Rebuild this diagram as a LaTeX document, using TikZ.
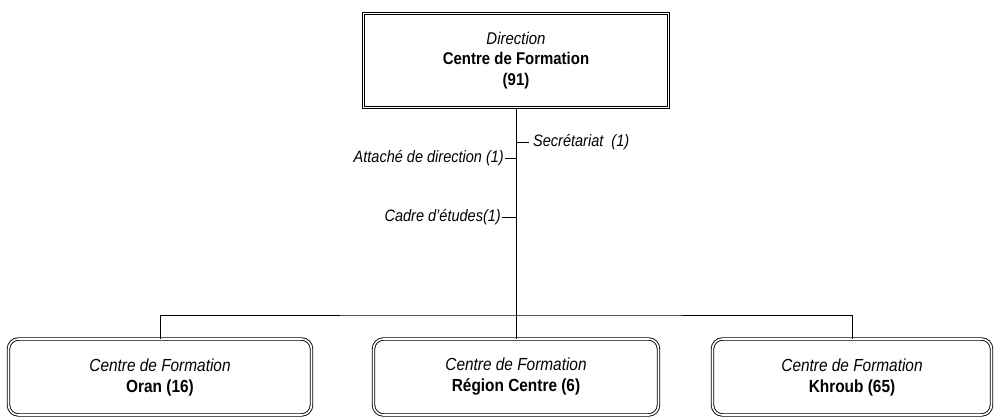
\documentclass[tikz,border=0pt]{standalone}
\usepackage{fontspec}
\setmainfont{Liberation Sans}[FakeStretch=0.88]
\begin{document}
\begin{tikzpicture}[x=1pt,y=-1pt,
  unitbox/.style={draw, double, double distance=1.6pt, line width=0.9pt,
    align=center, inner sep=0pt},
  headbox/.style={unitbox, minimum width=305pt, minimum height=94pt,
    font=\fontsize{17}{20.5}\selectfont},
  subbox/.style={unitbox, rounded corners=10pt, minimum height=76pt,
    font=\fontsize{17.5}{21}\selectfont},
  lbl/.style={font=\fontsize{16.5}{19}\selectfont\itshape, inner sep=1pt},
  link/.style={line width=0.8pt}]
\useasboundingbox (0,0) rectangle (995,417);

% head office
\node[headbox] (dir) at (516,60.5)
  {\textit{Direction}\\\textbf{Centre de Formation}\\\textbf{(91)}};

% regional centres
\node[subbox, minimum width=303pt] (oran) at (160,377)
  {\textit{Centre de Formation}\\\textbf{Oran (16)}};
\node[subbox, minimum width=285pt] (centre) at (516,377)
  {\textit{Centre de Formation}\\\textbf{Région Centre (6)}};
\node[subbox, minimum width=279pt] (khroub) at (852,377)
  {\textit{Centre de Formation}\\\textbf{Khroub (65)}};

% staff attached to the direction
\node[lbl, anchor=west] (sec) at (532,142) {Secrétariat\ \ (1)};
\node[lbl, anchor=east] (att) at (505,158) {Attaché de direction (1)};
\node[lbl, anchor=east] (cad) at (502,217) {Cadre d'études(1)};

% connectors
\coordinate (bar) at (516,315);
\draw[link] (dir.south) -- (centre.north);
\draw[link] (oran.north) |- (bar) -| (khroub.north);
\draw[link] (sec.west) ++(-3,0) -- (sec.west -| dir.south);
\draw[link] (att.east) -- (att.east -| dir.south);
\draw[link] (cad.east) -- (cad.east -| dir.south);
\end{tikzpicture}
\end{document}
